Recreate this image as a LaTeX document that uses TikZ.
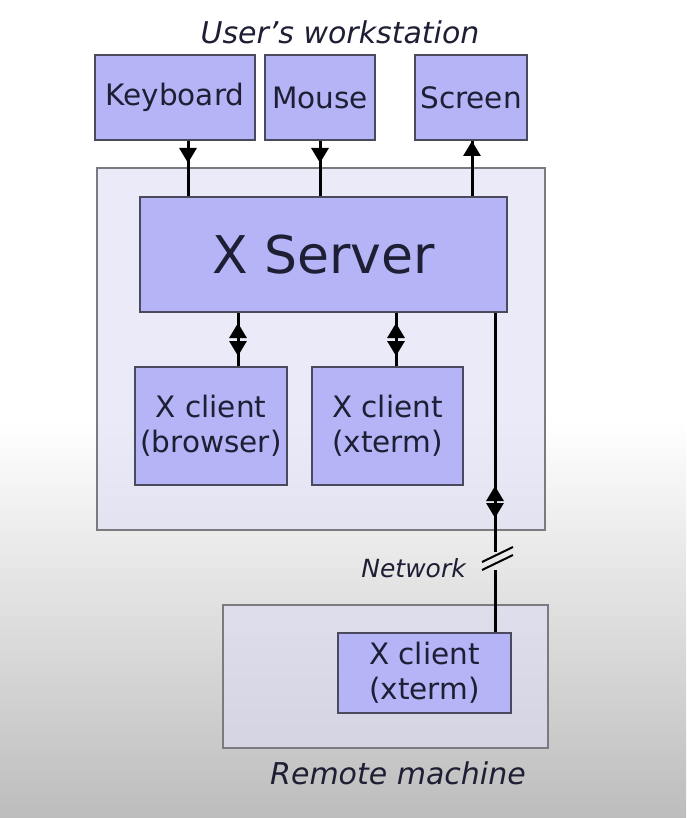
\documentclass[tikz,border=0pt]{standalone}
\usepackage{fontspec}
\setmainfont{DejaVu Sans}
\usetikzlibrary{arrows.meta,decorations.markings}
\definecolor{boxfill}{HTML}{B4B4F6}
\definecolor{boxline}{HTML}{4A4A5C}
\definecolor{outfill}{HTML}{DCDCF5}
\definecolor{outline}{HTML}{7A7A80}
\definecolor{txt}{HTML}{1E1E34}
\definecolor{bggray}{HTML}{BDBDBD}
\tikzset{
  box/.style={draw=boxline, line width=2pt, fill=boxfill, text=txt, inner sep=0pt, align=center, font=\fontsize{29.5}{35}\selectfont},
  outer/.style={draw=outline, line width=2pt, fill=outfill, fill opacity=0.6, draw opacity=1, inner sep=0pt},
  lbl/.style={text=txt, font=\fontsize{30}{36}\itshape\selectfont, inner sep=0pt},
  conn/.style={line width=3pt, draw=black},
  mytip/.tip={Triangle[width=17pt,length=15pt]},
}
\begin{document}
\begin{tikzpicture}[x=1pt,y=-1pt]
\useasboundingbox (0,0) rectangle (686,818);
\fill[white] (0,0) rectangle (686,420);
\shade[top color=white, bottom color=bggray] (0,420) rectangle (686,818);

% containers
\node[outer, minimum width=448pt, minimum height=362pt] (ws) at (321,349) {};
\node[outer, minimum width=325pt, minimum height=143pt] (rm) at (385.5,676.5) {};

% devices
\node[box, minimum width=160pt, minimum height=85pt] (kb) at (175,97.5) {Keyboard};
\node[box, minimum width=110pt, minimum height=85pt] (ms) at (320,97.5) {Mouse};
\node[box, minimum width=112pt, minimum height=85pt] (sc) at (471,97.5) {Screen};

% server and clients
\node[box, minimum width=367pt, minimum height=115pt, font=\fontsize{52}{60}\selectfont] (srv) at (323.5,254.5) {X Server};
\node[box, minimum width=152pt, minimum height=118pt] (cb) at (211,426) {X client\\(browser)};
\node[box, minimum width=151pt, minimum height=118pt] (cx) at (387.5,426) {X client\\(xterm)};
\node[box, minimum width=173pt, minimum height=80pt] (rx) at (424.5,673) {X client\\(xterm)};

% labels
\node[lbl] (uw) at (340,32) {User's workstation};
\node[lbl, anchor=east, font=\fontsize{25}{30}\itshape\selectfont] (nw) at (466,568) {Network};
\node[lbl] (rml) at (398,773) {Remote machine};

% device connectors
\draw[conn, postaction={decorate}, decoration={markings, mark=at position 22pt with {\arrow{mytip}}}]
  (188,0 |- kb.south) -- (188,0 |- srv.north);
\draw[conn, postaction={decorate}, decoration={markings, mark=at position 22pt with {\arrow{mytip}}}]
  (ms.south) -- (320,0 |- srv.north);
\draw[conn, postaction={decorate}, decoration={markings, mark=at position 55pt with {\arrow{mytip}}}]
  (472,0 |- srv.north) -- (472,0 |- sc.south);

% client connectors
\draw[conn, postaction={decorate}, decoration={markings,
    mark=at position 10pt with {\arrowreversed{mytip}},
    mark=at position 43pt with {\arrow{mytip}}}]
  (238,0 |- srv.south) -- (238,0 |- cb.north);
\draw[conn, postaction={decorate}, decoration={markings,
    mark=at position 10pt with {\arrowreversed{mytip}},
    mark=at position 43pt with {\arrow{mytip}}}]
  (396,0 |- srv.south) -- (396,0 |- cx.north);

% network connector
\coordinate (brkA) at (495,552);
\coordinate (brkB) at (495,570);
\draw[conn, postaction={decorate}, decoration={markings,
    mark=at position 173pt with {\arrowreversed{mytip}},
    mark=at position 205pt with {\arrow{mytip}}}]
  (495,0 |- srv.south) -- (brkA);
\draw[conn] (brkB) -- (495,0 |- rx.north);
\draw[line width=2pt] (482,562) -- (513,547);
\draw[line width=2pt] (482,570) -- (513,555);
\end{tikzpicture}
\end{document}
